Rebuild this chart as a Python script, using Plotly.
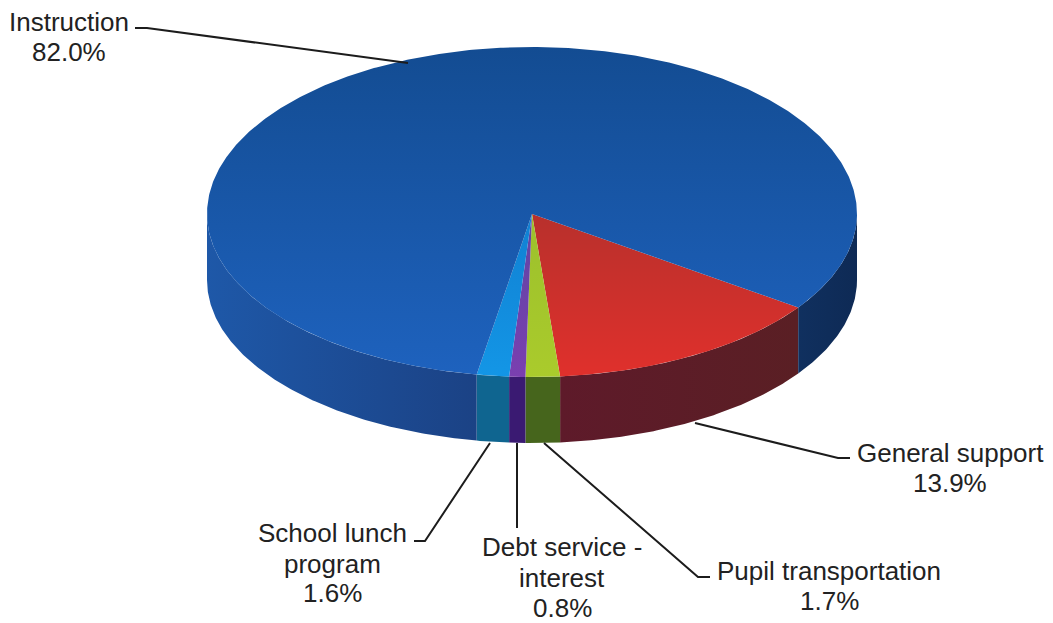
import numpy as np
import plotly.graph_objects as go

# Data, in drawing order (clockwise from the red slice's leading edge)
categories = ["General support", "Pupil transportation", "Debt service - interest",
              "School lunch program", "Instruction"]
shares = [13.9, 1.7, 0.8, 1.6, 82.0]
label_lines = [["General support", "13.9%"], ["Pupil transportation", "1.7%"],
               ["Debt service -", "interest", "0.8%"],
               ["School lunch", "program", "1.6%"], ["Instruction", "82.0%"]]

# Styles: vertical gradient on the top face (lower, upper colour on the reversed pixel axis)
top_colors = [("#e0302c", "#b8302c"), ("#aacb2c", "#9cc02c"), ("#7a3fb0", "#5f46a4"),
              ("#1396e6", "#1180d2"), ("#1e62be", "#134c92")]
# Horizontal gradient on the rim (left, right colour)
side_colors = [("#5e1a2a", "#5a1f24"), ("#46651c", "#46651c"), ("#3a1a72", "#3a1a72"),
               ("#0f6590", "#0f6590"), ("#1e58a8", "#1b4285")]
side_color_right = ("#10305f", "#0e2a55")

# Layout geometry in pixels
CX, CY, RX, RY_BACK, RY_FRONT, DEPTH = 532, 214, 325, 167, 163, 66
START = 35.0
label_x = [950, 829, 562, 332, 69]
label_y = [[453, 483], [571, 601], [547, 578, 608], [533, 564, 593], [22, 52]]
leaders = [
    [(695, 423), (838, 458), (850, 458)],
    [(544, 443), (698, 577), (710, 577)],
    [(517, 443), (517, 528)],
    [(490, 443), (425, 541), (414, 541)],
    [(408, 63), (147, 28), (135, 28)],
]


def arc(a, b, dy=0.0):
    t = np.radians(np.linspace(a, b, max(int(abs(b - a)) * 2, 2) + 1))
    s = np.sin(t)
    return CX + RX * np.cos(t), CY + dy + np.where(s > 0, RY_FRONT, RY_BACK) * s


def gradient(pair, kind):
    return dict(type=kind, colorscale=[[0, pair[0]], [1, pair[1]]])


fig = go.Figure()
edges = START + np.concatenate([[0], np.cumsum(shares)]) / sum(shares) * 360

# Rim: only the front half of the ellipse is visible
for name, a, b, col in zip(categories, edges[:-1], edges[1:], side_colors):
    for lo, hi, override in ((0, 180, None), (360, 540, side_color_right)):
        s, e = max(a, lo), min(b, hi)
        if e <= s:
            continue
        x1, y1 = arc(s, e)
        x2, y2 = arc(e, s, DEPTH)
        fig.add_trace(go.Scatter(
            x=np.r_[x1, x2], y=np.r_[y1, y2], mode="lines", fill="toself",
            line=dict(width=0), fillgradient=gradient(override or col, "horizontal"),
            name=name, hoverinfo="skip", showlegend=False))

# Top face
for name, share, a, b, col in zip(categories, shares, edges[:-1], edges[1:], top_colors):
    x, y = arc(a, b)
    fig.add_trace(go.Scatter(
        x=np.r_[CX, x, CX], y=np.r_[CY, y, CY], mode="lines", fill="toself",
        line=dict(width=0), fillgradient=gradient(col, "vertical"), name=name,
        hoverinfo="text", text=f"{name}: {share}%", showlegend=False))

shapes = []
for pts in leaders:
    path = "M " + " L ".join(f"{x},{y}" for x, y in pts)
    shapes.append(dict(type="path", path=path, xref="x", yref="y",
                       line=dict(color="#1c1c1c", width=2)))

annotations = [
    dict(x=lx, y=ly, text=line, showarrow=False, xref="x", yref="y",
         xanchor="center", yanchor="middle", align="center",
         font=dict(family="Liberation Sans, Arial, sans-serif", size=26, color="#222222"))
    for lx, ys, lines in zip(label_x, label_y, label_lines)
    for ly, line in zip(ys, lines)
]

fig.update_layout(
    width=1053, height=623, margin=dict(l=0, r=0, t=0, b=0),
    paper_bgcolor="white", plot_bgcolor="white",
    xaxis=dict(range=[0, 1053], visible=False, fixedrange=True),
    yaxis=dict(range=[623, 0], visible=False, fixedrange=True),
    shapes=shapes, annotations=annotations, showlegend=False,
)
fig.write_html("out.html", config=dict(displayModeBar=False),
               post_script="document.body.style.margin='0';document.body.style.overflow='hidden';")
